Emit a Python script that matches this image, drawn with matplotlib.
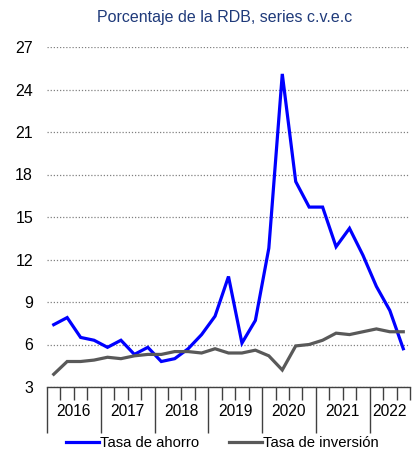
import matplotlib
matplotlib.use("Agg")
import matplotlib.pyplot as plt
import matplotlib.transforms as mtransforms
import numpy as np

plt.rcParams['font.family'] = ['Liberation Sans', 'DejaVu Sans']

years = ["2016", "2017", "2018", "2019", "2020", "2021", "2022"]
ahorro = [7.4, 7.9, 6.5, 6.3, 5.8, 6.3, 5.3, 5.8, 4.8, 5.0, 5.7, 6.7,
          8.0, 10.8, 6.1, 7.7, 12.8, 25.1, 17.5, 15.7, 15.7, 12.9, 14.2, 12.3,
          10.1, 8.4, 5.7]
inversion = [3.9, 4.8, 4.8, 4.9, 5.1, 5.0, 5.2, 5.3, 5.3, 5.5, 5.5, 5.4,
             5.7, 5.4, 5.4, 5.6, 5.2, 4.2, 5.9, 6.0, 6.3, 6.8, 6.7, 6.9,
             7.1, 6.9, 6.9]
yticks = [3, 6, 9, 12, 15, 18, 21, 24, 27]

fig = plt.figure(figsize=(4.14, 4.5), dpi=100)
ax = fig.add_axes([47/414, 63/450, 363/414, 340/450])

x = np.arange(len(ahorro)) + 0.5
ax.plot(x, ahorro, color='#0000FF', lw=2.3, label='Tasa de ahorro', solid_joinstyle='miter')
ax.plot(x, inversion, color='#595959', lw=2.3, label='Tasa de inversión', solid_joinstyle='miter')

ax.set_xlim(0, len(ahorro))
ax.set_ylim(3, 27)
ax.set_yticks(yticks)
ax.yaxis.grid(True, linestyle=(0, (1, 1.5)), color='#808080', lw=0.9)
ax.set_axisbelow(True)
for s in ['left', 'right', 'top']:
    ax.spines[s].set_visible(False)
ax.spines['bottom'].set_color('#404040')
ax.spines['bottom'].set_linewidth(1.0)

ax.tick_params(axis='y', length=0, pad=10, labelsize=11.5, colors='black')
ax.set_xticks(np.arange(0, len(ahorro) + 1, 4))
ax.set_xticks(np.arange(0, len(ahorro) + 1, 1), minor=True)
ax.tick_params(axis='x', which='major', length=33, width=1.0, color='#404040', labelbottom=False)
ax.tick_params(axis='x', which='minor', length=9, width=1.0, color='#404040')

trans = mtransforms.blended_transform_factory(ax.transData, ax.transAxes)
for i, yr in enumerate(years):
    xc = (i * 4 + len(ahorro)) / 2 if i == len(years) - 1 else i * 4 + 2
    ax.text(xc, -0.072, yr, transform=trans, ha='center', va='center', fontsize=11.2)

fig.text(0.543, 0.962, 'Porcentaje de la RDB, series c.v.e.c', ha='center', va='center',
         fontsize=11.5, color='#1F3A7A')

fig.legend(loc='center', bbox_to_anchor=(0.5375, 0.016), ncol=2, frameon=False,
           fontsize=10.7, handlelength=2.2, columnspacing=2.0, handletextpad=0.1)

fig.savefig('out.png', dpi=100)
